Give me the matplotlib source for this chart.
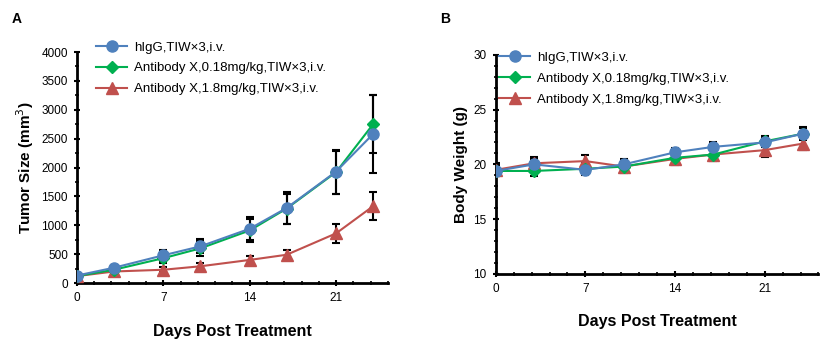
import numpy as np
import matplotlib
matplotlib.use('Agg')
import matplotlib.pyplot as plt
from matplotlib.ticker import MultipleLocator

plt.rcParams['font.family'] = ['Liberation Sans', 'DejaVu Sans']

days = [0, 3, 7, 10, 14, 17, 21, 24]
labels = ['hIgG,TIW\u00d73,i.v.',
          'Antibody X,0.18mg/kg,TIW\u00d73,i.v.',
          'Antibody X,1.8mg/kg,TIW\u00d73,i.v.']

# tumor size (mm3)
tumor_igg = [130, 265, 480, 635, 940, 1300, 1930, 2580]
tumor_igg_err = [30, 40, 100, 120, 200, 270, 380, 680]
tumor_lo = [120, 230, 430, 600, 910, 1290, 1920, 2750]
tumor_lo_err = [30, 40, 90, 130, 200, 260, 370, 500]
tumor_hi = [120, 200, 230, 290, 400, 490, 860, 1330]
tumor_hi_err = [20, 30, 40, 50, 60, 80, 160, 240]

# body weight (g)
bw_igg = [19.4, 20.0, 19.5, 20.0, 21.1, 21.6, 22.0, 22.8]
bw_igg_err = [0.5, 0.5, 0.5, 0.5, 0.4, 0.4, 0.4, 0.6]
bw_lo = [19.4, 19.4, 19.6, 19.8, 20.6, 20.9, 22.1, 22.8]
bw_lo_err = [0.5, 0.5, 0.5, 0.5, 0.5, 0.5, 0.5, 0.5]
bw_hi = [19.5, 20.1, 20.3, 19.8, 20.5, 20.9, 21.3, 21.9]
bw_hi_err = [0.6, 0.6, 0.6, 0.6, 0.6, 0.6, 0.6, 0.6]

colors = ['#4F81BD', '#00B050', '#C0504D']
markers = ['o', 'D', '^']
msizes = [8, 6, 8]

fig = plt.figure(figsize=(8.36, 3.49), dpi=100)
axA = fig.add_axes([0.092, 0.189, 0.372, 0.662])
axB = fig.add_axes([0.593, 0.215, 0.386, 0.628])


def draw(ax, series, errs, ylim, major, minor, ylabel, legend_xy):
    for i, (vals, err) in enumerate(zip(series, errs)):
        ax.errorbar(days, vals, yerr=err, fmt='none', ecolor='black',
                    elinewidth=1.5, capsize=3, capthick=1.5, zorder=2)
        ax.plot(days, vals, color=colors[i], marker=markers[i], ms=msizes[i],
                lw=1.5, label=labels[i], zorder=3 + (2 - i))
    ax.set_xlim(0, 25.2)
    ax.set_ylim(*ylim)
    ax.xaxis.set_major_locator(MultipleLocator(7))
    ax.xaxis.set_minor_locator(MultipleLocator(1.4))
    ax.yaxis.set_major_locator(MultipleLocator(major))
    ax.yaxis.set_minor_locator(MultipleLocator(minor))
    for s in ['top', 'right']:
        ax.spines[s].set_visible(False)
    for s in ['left', 'bottom']:
        ax.spines[s].set_linewidth(2)
    ax.tick_params(which='major', direction='inout', length=5, width=1.5,
                   labelsize=8.5, pad=4)
    ax.tick_params(which='minor', direction='inout', length=3, width=1.2)
    ax.set_xlabel('Days Post Treatment', fontsize=11.5, fontweight='bold', labelpad=14)
    ax.set_ylabel(ylabel, fontsize=11, fontweight='bold')
    ax.legend(loc='upper left', bbox_to_anchor=legend_xy, frameon=False,
              fontsize=9.5, handlelength=2.4, labelspacing=0.65, borderaxespad=0.2,
              handletextpad=0.5)


draw(axA, [tumor_igg, tumor_lo, tumor_hi], [tumor_igg_err, tumor_lo_err, tumor_hi_err],
     (0, 4000), 500, 250, 'Tumor Size (mm$^3$)', (0.035, 1.08))
draw(axB, [bw_igg, bw_lo, bw_hi], [bw_igg_err, bw_lo_err, bw_hi_err],
     (10, 30), 5, 1, 'Body Weight (g)', (-0.015, 1.05))

fig.text(0.014, 0.935, 'A', fontsize=10, fontweight='bold')
fig.text(0.526, 0.935, 'B', fontsize=10, fontweight='bold')

fig.savefig('out.png', dpi=100)
